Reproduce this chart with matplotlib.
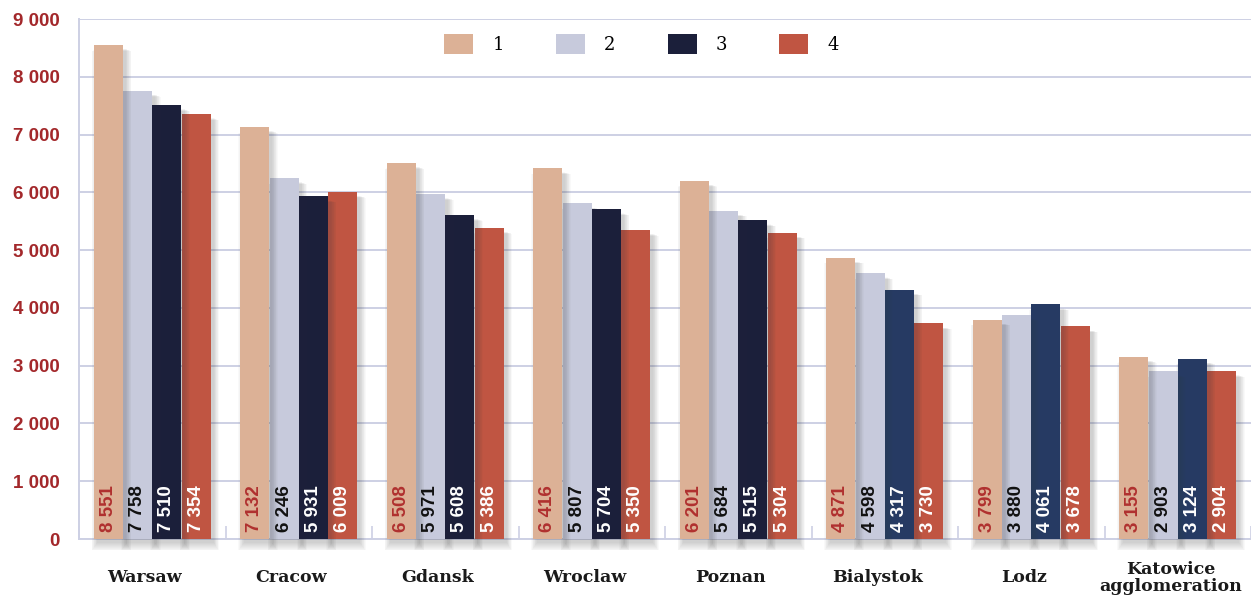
import numpy as np
import matplotlib.pyplot as plt
from matplotlib.patches import Patch
from matplotlib.transforms import blended_transform_factory

# Data
cities = ['Warsaw', 'Cracow', 'Gdansk', 'Wroclaw', 'Poznan', 'Bialystok', 'Lodz',
          'Katowice\nagglomeration']
series_names = ['1', '2', '3', '4']
s1 = [8551, 7132, 6508, 6416, 6201, 4871, 3799, 3155]
s2 = [7758, 6246, 5971, 5807, 5684, 4598, 3880, 2903]
s3 = [7510, 5931, 5608, 5704, 5515, 4317, 4061, 3124]
s4 = [7354, 6009, 5386, 5350, 5304, 3730, 3678, 2904]
yticks = [0, 1000, 2000, 3000, 4000, 5000, 6000, 7000, 8000, 9000]

# Styling
bar_colors = ['#DCB196', '#C7CADC', '#1B1F3A', '#C05542']
s3_colors = ['#1B1F3A'] * 5 + ['#263A63'] * 3
label_colors = ['#B0302F', '#111111', '#FFFFFF', '#FFFFFF']
grid_col = '#CDD0E4'
sans = ['Liberation Sans', 'DejaVu Sans']

def fmt(v):
    return f"{v:,}".replace(",", " ")

fig = plt.figure(figsize=(12.51, 6.06), dpi=100)
ax = fig.add_axes([79 / 1251, 1 - 539 / 606, 1 - 79 / 1251, 520 / 606])

x = np.arange(len(cities))
w = 0.197
step = 0.2
all_series = [s1, s2, s3, s4]

# draw from right to left so each shadow falls over the next bar's left edge
for j in reversed(range(4)):
    vals = np.array(all_series[j])
    cols = s3_colors if j == 2 else [bar_colors[j]] * len(vals)
    xs = x + (j - 1.5) * step
    z = 10 + (3 - j) * 2
    # soft drop shadow (layers of translucent grey)
    for k in range(9):
        e = k * 0.0045
        ax.bar(xs + 0.022, vals + k * 12, width=w + 2 * e,
               bottom=-70 - k * 16, color='#404040', alpha=0.026,
               linewidth=0, zorder=z, clip_on=False)
    ax.bar(xs, vals, width=w, color=cols, linewidth=0, zorder=z + 1)
    for xi, v in zip(xs, vals):
        ax.text(xi, 115, fmt(v), rotation=90, ha='center', va='bottom',
                color=label_colors[j], fontsize=13.5, fontweight='bold',
                family=sans, zorder=30)

ax.set_ylim(0, 9000)
ax.set_xlim(-0.5, len(cities) - 0.5)
ax.set_yticks(yticks)
ax.set_yticklabels([fmt(t) for t in yticks], color='#A3282B', fontsize=13.5,
                   fontweight='bold', family=sans)
ax.tick_params(axis='y', length=0, pad=14)
ax.set_xticks(np.arange(-0.5, len(cities), 1.0))
ax.set_xticklabels([])
ax.tick_params(axis='x', direction='in', length=9.5, width=1.2, color=grid_col)

ax.grid(axis='y', color=grid_col, linewidth=1.4, zorder=0)
ax.set_axisbelow(True)
for side in ['top', 'right']:
    ax.spines[side].set_visible(False)
ax.spines['left'].set_color(grid_col)
ax.spines['left'].set_linewidth(1.4)
ax.spines['bottom'].set_color(grid_col)
ax.spines['bottom'].set_linewidth(1.4)

# category labels under the groups
trans = blended_transform_factory(ax.transData, ax.transAxes)
for xi, name in zip(x, cities):
    ax.text(xi - 0.05, -0.075, name, transform=trans, ha='center', va='center',
            fontsize=12.5, fontweight='bold', family='DejaVu Serif',
            color='#1A1A1A', linespacing=0.95)

# legend
handles = [Patch(facecolor=c, edgecolor='none') for c in bar_colors]
ax.legend(handles, series_names, ncol=4, loc='center', bbox_to_anchor=(0.48, 0.952),
          frameon=False, handlelength=1.6, handleheight=1.3, handletextpad=1.05,
          columnspacing=2.9, prop={'family': 'DejaVu Serif', 'size': 13})

fig.savefig('out.png', dpi=100)
